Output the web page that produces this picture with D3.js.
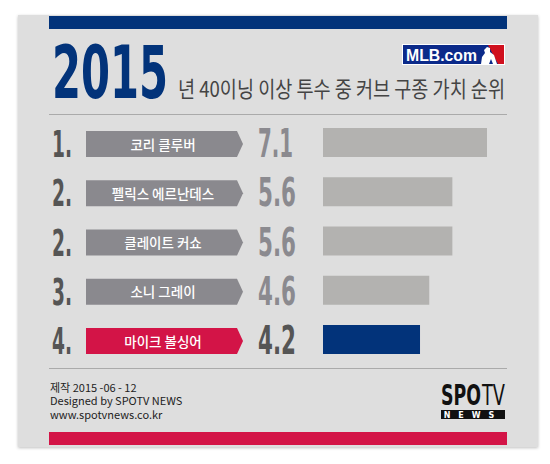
<!DOCTYPE html>
<html>
<head>
<meta charset="utf-8">
<script src="https://cdn.jsdelivr.net/npm/d3@7"></script>
<style>
  body { margin: 0; background: #fff; }
  text { font-family: "Noto Sans CJK KR", "Noto Sans", sans-serif; }
</style>
</head>
<body>
<div id="chart"></div>
<script>
const W = 550, H = 464

// data
const ranks = ["1.", "2.", "2.", "3.", "4."]
const names = ["코리 클루버", "펠릭스 에르난데스", "클레이트 커쇼", "소니 그레이", "마이크 볼싱어"]
const values = [7.1, 5.6, 5.6, 4.6, 4.2]
const highlight = 4
const title = "2015"
const subtitle = "년 40이닝 이상 투수 중 커브 구종 가치 순위"
const footer = ["제작 2015 -06 - 12", "Designed by SPOTV NEWS", "www.spotvnews.co.kr"]

const NAVY = "#02337a", RED = "#d31447", GRAY_BOX = "#8a898e", BAR = "#b3b2b0"

const svg = d3.select("#chart").append("svg")
    .attr("width", W)
    .attr("height", H)

const defs = svg.append("defs")
const f = defs.append("filter").attr("id", "sh").attr("x", "-5%").attr("y", "-5%").attr("width", "110%").attr("height", "110%")
f.append("feDropShadow").attr("dx", 0).attr("dy", 1).attr("stdDeviation", 1.5).attr("flood-color", "#000").attr("flood-opacity", 0.25)

// card
svg.append("rect")
    .attr("x", 18).attr("y", 15).attr("width", 520).attr("height", 432)
    .attr("fill", "#dedede")
    .attr("filter", "url(#sh)")

svg.append("rect").attr("x", 49).attr("y", 16).attr("width", 458).attr("height", 13).attr("fill", NAVY)
svg.append("rect").attr("x", 49).attr("y", 432).attr("width", 458).attr("height", 13).attr("fill", RED)

// header
svg.append("text")
    .attr("x", 52).attr("y", 98)
    .attr("font-family", "DejaVu Sans Condensed")
    .attr("font-weight", "bold")
    .attr("font-size", 73)
    .attr("textLength", 116)
    .attr("lengthAdjust", "spacingAndGlyphs")
    .attr("fill", NAVY)
    .style("font-family", "'DejaVu Sans Condensed'")
    .text(title)

svg.append("text")
    .attr("x", 178).attr("y", 97)
    .attr("font-size", 22)
    .attr("textLength", 327)
    .attr("lengthAdjust", "spacingAndGlyphs")
    .attr("fill", "#444")
    .text(subtitle)

// MLB.com logo
const logo = svg.append("g").attr("transform", "translate(402,44)")
logo.append("rect").attr("width", 103).attr("height", 21).attr("fill", "#fff")
logo.append("rect").attr("x", 1).attr("y", 1).attr("width", 101).attr("height", 19).attr("fill", "#0b2a8a")
logo.append("path").attr("d", "M86,1 L102,1 L102,20 L96,20 Z").attr("fill", "#d0101e")
logo.append("path").attr("d", "M79,20 L80,13 L83,9 L82,6 L85,3 L88,4 L88,8 L92,11 L95,20 L91,20 L89,15 L87,20 Z").attr("fill", "#fff")
logo.append("text")
    .attr("x", 4).attr("y", 16.5)
    .attr("font-family", "Liberation Sans")
    .style("font-family", "'Liberation Sans'")
    .attr("font-weight", "bold")
    .attr("font-size", 16)
    .attr("textLength", 71)
    .attr("lengthAdjust", "spacingAndGlyphs")
    .attr("fill", "#fff")
    .text("MLB.com")

// separators
svg.append("line").attr("x1", 49).attr("x2", 507).attr("y1", 114.5).attr("y2", 114.5).attr("stroke", "#aaa")
svg.append("line").attr("x1", 49).attr("x2", 507).attr("y1", 368.5).attr("y2", 368.5).attr("stroke", "#aaa")

// scales
const idx = d3.range(values.length)
const y = d3.scalePoint().domain(idx).range([142.5, 339.5])
const x = d3.scaleLinear().domain([0, 7.1]).range([323, 487])
const barH = 29

const rows = svg.selectAll("g.row").data(idx).join("g").attr("class", "row")

rows.append("text")
    .attr("x", 52).attr("y", i => y(i) + 14.5)
    .attr("font-family", "DejaVu Sans Condensed")
    .style("font-family", "'DejaVu Sans Condensed'")
    .attr("font-weight", "bold")
    .attr("font-size", 38)
    .attr("textLength", 20)
    .attr("lengthAdjust", "spacingAndGlyphs")
    .attr("fill", "#555")
    .text(i => ranks[i])

rows.append("path")
    .attr("d", i => {
        const t = y(i) + 1.5 - 13, b = y(i) + 1.5 + 13
        return `M86,${t} L237,${t} L243,${(t + b) / 2} L237,${b} L86,${b} Z`
    })
    .attr("fill", i => i === highlight ? RED : GRAY_BOX)

rows.append("text")
    .attr("x", 163).attr("y", i => y(i) + 7)
    .attr("text-anchor", "middle")
    .attr("font-size", 13.5)
    .attr("font-weight", "500")
    .attr("fill", "#fff")
    .text(i => names[i])

rows.append("text")
    .attr("x", 258).attr("y", i => y(i) + 14.5)
    .attr("font-family", "DejaVu Sans Condensed")
    .style("font-family", "'DejaVu Sans Condensed'")
    .attr("font-weight", "bold")
    .attr("font-size", 39)
    .attr("textLength", i => values[i] === 7.1 ? 35 : 38)
    .attr("lengthAdjust", "spacingAndGlyphs")
    .attr("fill", i => i === highlight ? "#555" : "#8b8a8f")
    .text(i => d3.format(".1f")(values[i]))

rows.append("rect")
    .attr("x", x(0))
    .attr("y", i => y(i) - barH / 2)
    .attr("width", i => x(values[i]) - x(0))
    .attr("height", barH)
    .attr("fill", i => i === highlight ? NAVY : BAR)

// footer
svg.selectAll("text.foot").data(footer).join("text")
    .attr("class", "foot")
    .attr("x", 50).attr("y", (d, i) => 392 + i * 13.3)
    .attr("font-size", 11)
    .attr("fill", "#222")
    .text(d => d)

// SPOTV NEWS logo
const sp = svg.append("g").attr("transform", "translate(441,384)")
sp.append("text")
    .attr("x", 0).attr("y", 21)
    .attr("font-family", "DejaVu Sans Condensed")
    .style("font-family", "'DejaVu Sans Condensed'")
    .attr("font-weight", "bold")
    .attr("font-size", 28)
    .attr("textLength", 40)
    .attr("lengthAdjust", "spacingAndGlyphs")
    .attr("fill", "#111")
    .text("SPO")
sp.append("text")
    .attr("x", 41).attr("y", 21)
    .attr("font-family", "DejaVu Sans Condensed")
    .style("font-family", "'DejaVu Sans Condensed'")
    .attr("font-size", 28)
    .attr("textLength", 23)
    .attr("lengthAdjust", "spacingAndGlyphs")
    .attr("fill", "#111")
    .text("TV")
sp.append("rect").attr("x", 0).attr("y", 26).attr("width", 64).attr("height", 9).attr("fill", "#111")
sp.append("text")
    .attr("x", 32).attr("y", 34)
    .attr("text-anchor", "middle")
    .attr("font-family", "DejaVu Sans")
    .style("font-family", "'DejaVu Sans'")
    .attr("font-weight", "bold")
    .attr("font-size", 8)
    .attr("letter-spacing", 8)
    .attr("fill", "#fff")
    .text("NEWS")
</script>
</body>
</html>
